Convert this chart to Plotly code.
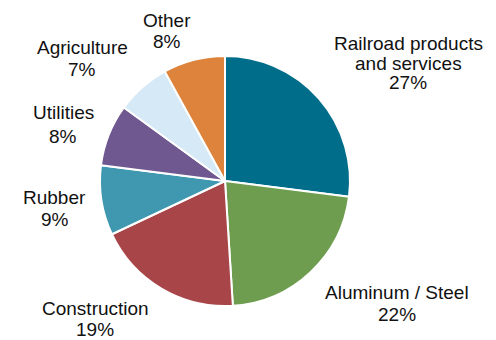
import plotly.graph_objects as go

# Share of revenue by end market
categories = ["Railroad products and services", "Aluminum / Steel", "Construction",
              "Rubber", "Utilities", "Agriculture", "Other"]
shares = [27, 22, 19, 9, 8, 7, 8]
label_lines = [["Railroad products", "and services"], ["Aluminum / Steel"], ["Construction"],
               ["Rubber"], ["Utilities"], ["Agriculture"], ["Other"]]
colors = ["#006E8A", "#6F9D50", "#A84548", "#4097B0", "#6F578F", "#D5E9F7", "#DD833B"]

W, H = 496, 340

# Label anchor for each slice (pixel x, pixel y of first line) and line step
label_pos = [(408, 43.5), (397, 292.5), (95, 308), (54.5, 197), (63, 113), (82, 48), (167, 20)]
line_step = [19.5, 22, 21, 22, 23, 22, 21]

fig = go.Figure(go.Pie(
    labels=categories,
    values=shares,
    sort=False,
    direction="clockwise",
    rotation=0,
    marker=dict(colors=colors, line=dict(color="white", width=2)),
    textinfo="none",
    hoverinfo="label+percent",
    showlegend=False,
    domain=dict(x=[100 / W, 350 / W], y=[(H - 306) / H, (H - 56) / H]),
))

annotations = []
for lines, val, (px, py), step in zip(label_lines, shares, label_pos, line_step):
    for i, txt in enumerate(lines + [f"{val}%"]):
        annotations.append(dict(
            x=px / W, y=1 - (py + i * step) / H,
            xref="paper", yref="paper",
            text=txt, showarrow=False,
            xanchor="center", yanchor="middle",
            font=dict(family="Liberation Sans, Arial, sans-serif", size=19, color="#111111"),
        ))

fig.update_layout(
    width=W, height=H,
    margin=dict(l=0, r=0, t=0, b=0),
    paper_bgcolor="white",
    plot_bgcolor="white",
    annotations=annotations,
)

fig.write_html("out.html")
